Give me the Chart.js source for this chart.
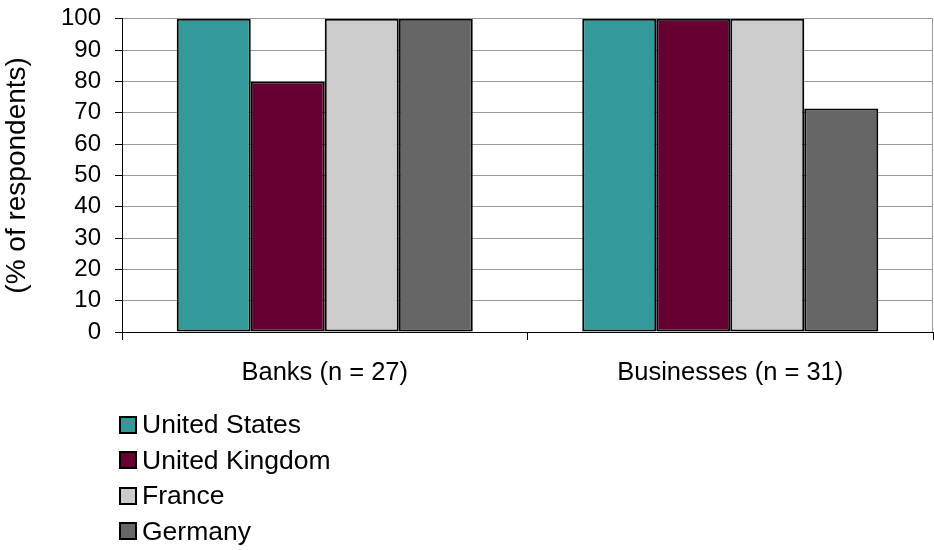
<!DOCTYPE html>
<html>
<head>
  <title>Respondents by Country</title>
  <script src="https://cdn.jsdelivr.net/npm/chart.js"></script>
  <style>
    body { margin: 0; background: #fff; }
    #wrap { position: relative; width: 934px; height: 550px; }
    #legend {
      position: absolute; left: 119px; top: 407px;
      font-family: "Liberation Sans", Arial, sans-serif; font-size: 26.5px; color: #000;
    }
    .item { height: 35.5px; display: flex; align-items: center; }
    .box { width: 14px; height: 14px; border: 2px solid #000; margin-right: 5px; }
  </style>
</head>
<body>
  <div id="wrap">
    <canvas id="myChart" width="934" height="550"></canvas>
    <div id="legend"></div>
  </div>

<script>
// Data
const groups = ['Banks (n = 27)', 'Businesses (n = 31)'];
const countries = ['United States', 'United Kingdom', 'France', 'Germany'];
const unitedStates = [100, 100];
const unitedKingdom = [80, 100];
const france = [100, 100];
const germany = [100, 71.4];
const colors = ['#339999', '#660033', '#cccccc', '#666666'];
const yTicks = [0, 10, 20, 30, 40, 50, 60, 70, 80, 90, 100];

const seriesValues = [unitedStates, unitedKingdom, france, germany];
const fontFamily = '"Liberation Sans", Arial, sans-serif';

// Gray line on the right edge of the plot area
const frame = {
  id: 'frame',
  afterDraw(chart) {
    const { ctx, chartArea } = chart;
    ctx.save();
    ctx.strokeStyle = '#999';
    ctx.lineWidth = 1;
    ctx.beginPath();
    ctx.moveTo(chartArea.right - 0.5, chartArea.top);
    ctx.lineTo(chartArea.right - 0.5, chartArea.bottom);
    ctx.stroke();
    ctx.restore();
  }
};

const chart = new Chart(document.getElementById('myChart'), {
  type: 'bar',
  data: {
    labels: groups,
    datasets: countries.map((name, i) => ({
      label: name,
      data: seriesValues[i],
      backgroundColor: colors[i],
      borderColor: '#000',
      borderWidth: 2,
      borderSkipped: false
    }))
  },
  plugins: [frame],
  options: {
    responsive: false,
    animation: false,
    categoryPercentage: 0.73,
    barPercentage: 1,
    layout: { padding: { top: 17, right: 1, left: 0, bottom: 0 } },
    plugins: {
      legend: { display: false },
      tooltip: { enabled: false }
    },
    scales: {
      x: {
        afterFit: s => { s.height = 218; },
        grid: { drawOnChartArea: false, drawTicks: true, tickLength: 8, color: '#000' },
        border: { color: '#000', width: 1 },
        ticks: { color: '#000', font: { family: fontFamily, size: 25.5 }, padding: 18 }
      },
      y: {
        min: 0,
        max: 100,
        afterFit: s => { s.width = 122; },
        afterBuildTicks: s => { s.ticks = yTicks.map(v => ({ value: v })); },
        grid: { color: '#999', tickColor: '#000', tickLength: 7 },
        border: { color: '#000', width: 1 },
        ticks: { color: '#000', font: { family: fontFamily, size: 24, lineHeight: 0.4 }, padding: 14, autoSkip: false },
        title: { display: true, text: '(% of respondents)', color: '#000', font: { family: fontFamily, size: 28 }, padding: 0 }
      }
    }
  }
});

// Legend listed vertically under the chart
const legend = document.getElementById('legend');
countries.forEach((name, i) => {
  const row = document.createElement('div');
  row.className = 'item';
  row.innerHTML = '<span class="box" style="background:' + colors[i] + '"></span>' + name;
  legend.appendChild(row);
});
</script>
</body>
</html>
